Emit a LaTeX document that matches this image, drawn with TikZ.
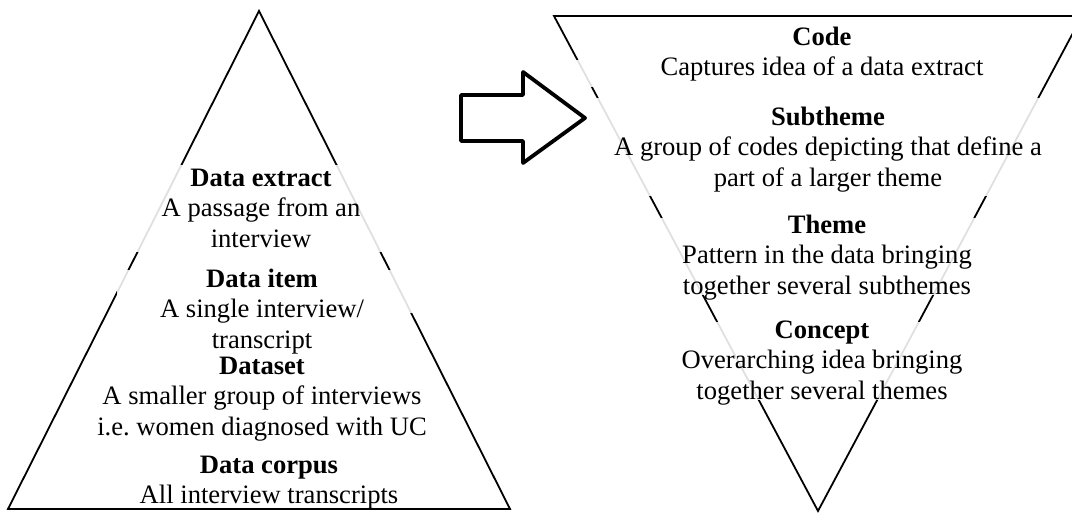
\documentclass[tikz,border=0pt]{standalone}
\usepackage{fontspec}
\setmainfont{Liberation Serif}
\begin{document}
\frenchspacing
\begin{tikzpicture}[x=1pt,y=-1pt,
  tri/.style={line width=1.8pt, line join=miter},
  mask/.style={fill=white, fill opacity=0.88},
  bigarrow/.style={line width=3.8pt, line join=round},
  txt/.style={align=center, anchor=north, inner sep=0pt, font=\fontsize{26.6}{30.5}\selectfont}]
\useasboundingbox (0,0) rectangle (1072,513);
\clip (0,0) rectangle (1072,513);
% triangles
\draw[tri] (8,509) -- (510,509) -- (259,11) -- cycle;
\draw[tri] (554,16) -- (1082,16) -- (818,511) -- cycle;
% white text boxes
\fill[mask] (130,165) rectangle (392,252);
\fill[mask] (117,270) rectangle (415,313);
\fill[mask] (570,60) rectangle (1040,87);
\fill[mask] (585,98) rectangle (1050,196);
\fill[mask] (655,218) rectangle (985,295);
\fill[mask] (705,322) rectangle (930,400);
% arrow
\draw[bigarrow] (461,95) -- (523,95) -- (523,72) -- (585,118) -- (523,163) -- (523,141) -- (461,141) -- cycle;
% left texts
\node[txt] (extract) at (261,164.7) {\strut\textbf{Data extract}\\A passage from an\\interview};
\node[txt] (item) at (262,265.7) {\strut\textbf{Data item}\\A single interview/\\transcript};
\node[txt] (dataset) at (262,352.7) {\strut\textbf{Dataset}\\A smaller group of interviews\\i.e. women diagnosed with UC};
\node[txt] (corpus) at (269,451.7) {\strut\textbf{Data corpus}\\All interview transcripts};
% right texts
\node[txt] (code) at (822,23.7) {\strut\textbf{Code}\\Captures idea of a data extract};
\node[txt] (subtheme) at (828,103.7) {\strut\textbf{Subtheme}\\A group of codes depicting that define a\\part of a larger theme};
\node[txt] (theme) at (827,211.7) {\strut\textbf{Theme}\\Pattern in the data bringing\\together several subthemes};
\node[txt] (concept) at (822,316.7) {\strut\textbf{Concept}\\Overarching idea bringing\\together several themes};
\end{tikzpicture}
\end{document}
